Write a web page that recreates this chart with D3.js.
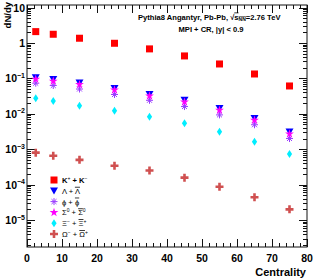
<!DOCTYPE html>
<html>
<head>
<meta charset="utf-8">
<script src="https://cdn.jsdelivr.net/npm/d3@7"></script>
<style>
  body { margin: 0; background: #fff; }
  text { font-family: "Liberation Sans", Arial, sans-serif; }
</style>
</head>
<body>
<svg id="chart" width="315" height="278"></svg>
<script>
(() => {
  // centrality bin centres
  const centrality = [2.5, 7.5, 15, 25, 35, 45, 55, 65, 75];

  const kaon   = [2.09, 1.76, 1.36, 0.98, 0.68, 0.43, 0.255, 0.133, 0.061];
  const lambda = [0.107, 0.094, 0.076, 0.053, 0.036, 0.0245, 0.0143, 0.0075, 0.0031];
  const phi    = [0.073, 0.063, 0.050, 0.035, 0.024, 0.016, 0.0093, 0.0049, 0.0020];
  const sigma  = [0.095, 0.083, 0.067, 0.047, 0.032, 0.0215, 0.0126, 0.0066, 0.0027];
  const xi     = [0.0274, 0.023, 0.0169, 0.0122, 0.0083, 0.0054, 0.0031, 0.00163, 0.00073];
  const omega  = [0.0008, 0.00065, 0.0005, 0.00034, 0.00025, 0.000157, 0.000087, 0.000044, 0.00002];

  const xTicks = [0, 10, 20, 30, 40, 50, 60, 70, 80];
  const yExps = [-5, -4, -3, -2, -1, 0, 1];

  const series = [
    { name: 'kaon',   values: kaon,   color: '#ff0000', shape: 'square' },
    { name: 'lambda', values: lambda, color: '#0000ff', shape: 'triangle' },
    { name: 'phi',    values: phi,    color: '#9a3cff', shape: 'asterisk' },
    { name: 'sigma',  values: sigma,  color: '#ff00ff', shape: 'star' },
    { name: 'xi',     values: xi,     color: '#00eeff', shape: 'diamond' },
    { name: 'omega',  values: omega,  color: '#d05050', shape: 'cross' }
  ];

  const svg = d3.select('#chart');
  const m = { left: 27, right: 307, top: 5, bottom: 247 };

  const x = d3.scaleLinear().domain([0, 80]).range([m.left, m.right]);
  const y = d3.scaleLog().domain([1.73e-6, 11.8]).range([m.bottom, m.top]);

  const frame = '#111';

  // frame
  svg.append('rect')
    .attr('x', m.left).attr('y', m.top)
    .attr('width', m.right - m.left).attr('height', m.bottom - m.top)
    .attr('fill', 'none').attr('stroke', frame).attr('stroke-width', 1);

  // x ticks (bottom + mirrored top)
  const xMinor = d3.range(0, 81, 2);
  const tk = svg.append('g').attr('stroke', frame).attr('stroke-width', 1);
  xMinor.forEach(v => {
    const len = v % 10 === 0 ? 8 : 4;
    const px = Math.round(x(v)) + 0.5;
    tk.append('line').attr('x1', px).attr('x2', px).attr('y1', m.bottom).attr('y2', m.bottom - len);
    tk.append('line').attr('x1', px).attr('x2', px).attr('y1', m.top).attr('y2', m.top + len);
  });

  // y ticks (left + mirrored right)
  const [y0, y1] = y.domain();
  for (let e = -6; e <= 1; e++) {
    for (let k = 1; k <= 9; k++) {
      const v = k * Math.pow(10, e);
      if (v < y0 || v > y1) continue;
      const len = k === 1 ? 8 : 4;
      const py = Math.round(y(v)) + 0.5;
      tk.append('line').attr('x1', m.left).attr('x2', m.left + len).attr('y1', py).attr('y2', py);
      tk.append('line').attr('x1', m.right).attr('x2', m.right - len).attr('y1', py).attr('y2', py);
    }
  }

  // x tick labels
  svg.append('g').selectAll('text').data(xTicks).join('text')
    .attr('x', d => x(d)).attr('y', 262)
    .attr('text-anchor', 'middle')
    .attr('font-size', 10.5).attr('font-weight', 'bold').attr('fill', '#000')
    .text(d => d);

  // y tick labels
  const yl = svg.append('g').attr('font-weight', 'bold').attr('fill', '#000');
  yExps.forEach(e => {
    const t = yl.append('text')
      .attr('x', 25).attr('y', y(Math.pow(10, e)) + 4)
      .attr('text-anchor', 'end').attr('font-size', 10.5);
    if (e === 0) t.text('1');
    else if (e === 1) t.text('10');
    else {
      t.append('tspan').text('10');
      t.append('tspan').attr('font-size', 7).attr('dy', -4.5).text('\u2212' + (-e));
    }
  });

  // axis titles
  svg.append('text')
    .attr('transform', 'translate(11,2) rotate(-90)')
    .attr('text-anchor', 'end').attr('font-size', 9.5).attr('font-weight', 'bold')
    .text('dN/dy');
  svg.append('text')
    .attr('x', 306).attr('y', 276)
    .attr('text-anchor', 'end').attr('font-size', 11).attr('font-weight', 'bold')
    .text('Centrality');

  // header text
  const h1 = svg.append('text')
    .attr('x', 138).attr('y', 19.5)
    .attr('font-size', 7.6).attr('font-weight', 'bold');
  h1.append('tspan').text('Pythia8 Angantyr, Pb-Pb, \u221A');
  const sTs = h1.append('tspan').style('text-decoration', 'overline');
  sTs.append('tspan').text('s');
  sTs.append('tspan').attr('font-size', 5).attr('dy', 1.5).text('NN');
  h1.append('tspan').attr('dy', -1.5).text('=2.76 TeV');

  svg.append('text')
    .attr('x', 211).attr('y', 31.5)
    .attr('text-anchor', 'middle').attr('font-size', 7.6).attr('font-weight', 'bold')
    .text('MPI + CR, |y| < 0.9');

  // marker shapes
  function marker(g, shape, color) {
    if (shape === 'square') {
      g.append('rect').attr('x', -3.5).attr('y', -3.5).attr('width', 7).attr('height', 7).attr('fill', color);
    } else if (shape === 'triangle') {
      g.append('path').attr('d', 'M-4,-3.2L4,-3.2L0,3.8Z').attr('fill', color);
    } else if (shape === 'asterisk') {
      const p = g.append('g').attr('stroke', color).attr('stroke-width', 1);
      [0, 45, 90, 135].forEach(a => {
        const r = a * Math.PI / 180;
        p.append('line')
          .attr('x1', -3.5 * Math.cos(r)).attr('y1', -3.5 * Math.sin(r))
          .attr('x2', 3.5 * Math.cos(r)).attr('y2', 3.5 * Math.sin(r));
      });
    } else if (shape === 'star') {
      g.append('path').attr('d', d3.symbol(d3.symbolStar, 24)()).attr('fill', color);
    } else if (shape === 'diamond') {
      g.append('path').attr('d', 'M0,-4L2.6,0L0,4L-2.6,0Z').attr('fill', color);
    } else if (shape === 'cross') {
      g.append('path')
        .attr('d', 'M-1.3,-4H1.3V-1.3H4V1.3H1.3V4H-1.3V1.3H-4V-1.3H-1.3Z')
        .attr('fill', color);
    }
  }

  // data points
  const pts = svg.append('g');
  series.forEach(s => {
    s.values.forEach((v, i) => {
      const g = pts.append('g').attr('transform', `translate(${x(centrality[i])},${y(v)})`);
      marker(g, s.shape, s.color);
    });
  });

  // legend
  const legendRows = [
    [['K', 'b'], ['+', 'sup'], [' + K', 'b'], ['\u2212', 'sup']],
    [['\u039B + ', ''], ['\u039B', 'o']],
    [['\u03D5 + ', ''], ['\u03D5', 'o']],
    [['\u03A3', ''], ['0', 'sup'], [' + ', ''], ['\u03A3', 'o'], ['0', 'sup']],
    [['\u039E', ''], ['\u2212', 'sup'], [' + ', ''], ['\u039E', 'o'], ['+', 'sup']],
    [['\u03A9', ''], ['\u2212', 'sup'], [' + ', ''], ['\u03A9', 'o'], ['+', 'sup']]
  ];
  const lg = svg.append('g');
  series.forEach((s, i) => {
    const cy = 180 + i * 10.8;
    marker(lg.append('g').attr('transform', `translate(54,${cy})`), s.shape, s.color);
    const t = lg.append('text').attr('x', 62).attr('y', cy + 3).attr('font-size', 7.6);
    let up = false;
    legendRows[i].forEach(([str, kind]) => {
      const ts = t.append('tspan').text(str);
      if (kind === 'sup') {
        ts.attr('font-size', 5).attr('dy', up ? 0 : -3);
        up = true;
      } else {
        if (up) { ts.attr('dy', 3); up = false; }
        if (kind === 'b') ts.attr('font-weight', 'bold');
        if (kind === 'o') ts.style('text-decoration', 'overline');
      }
    });
  });
})();
</script>
</body>
</html>
